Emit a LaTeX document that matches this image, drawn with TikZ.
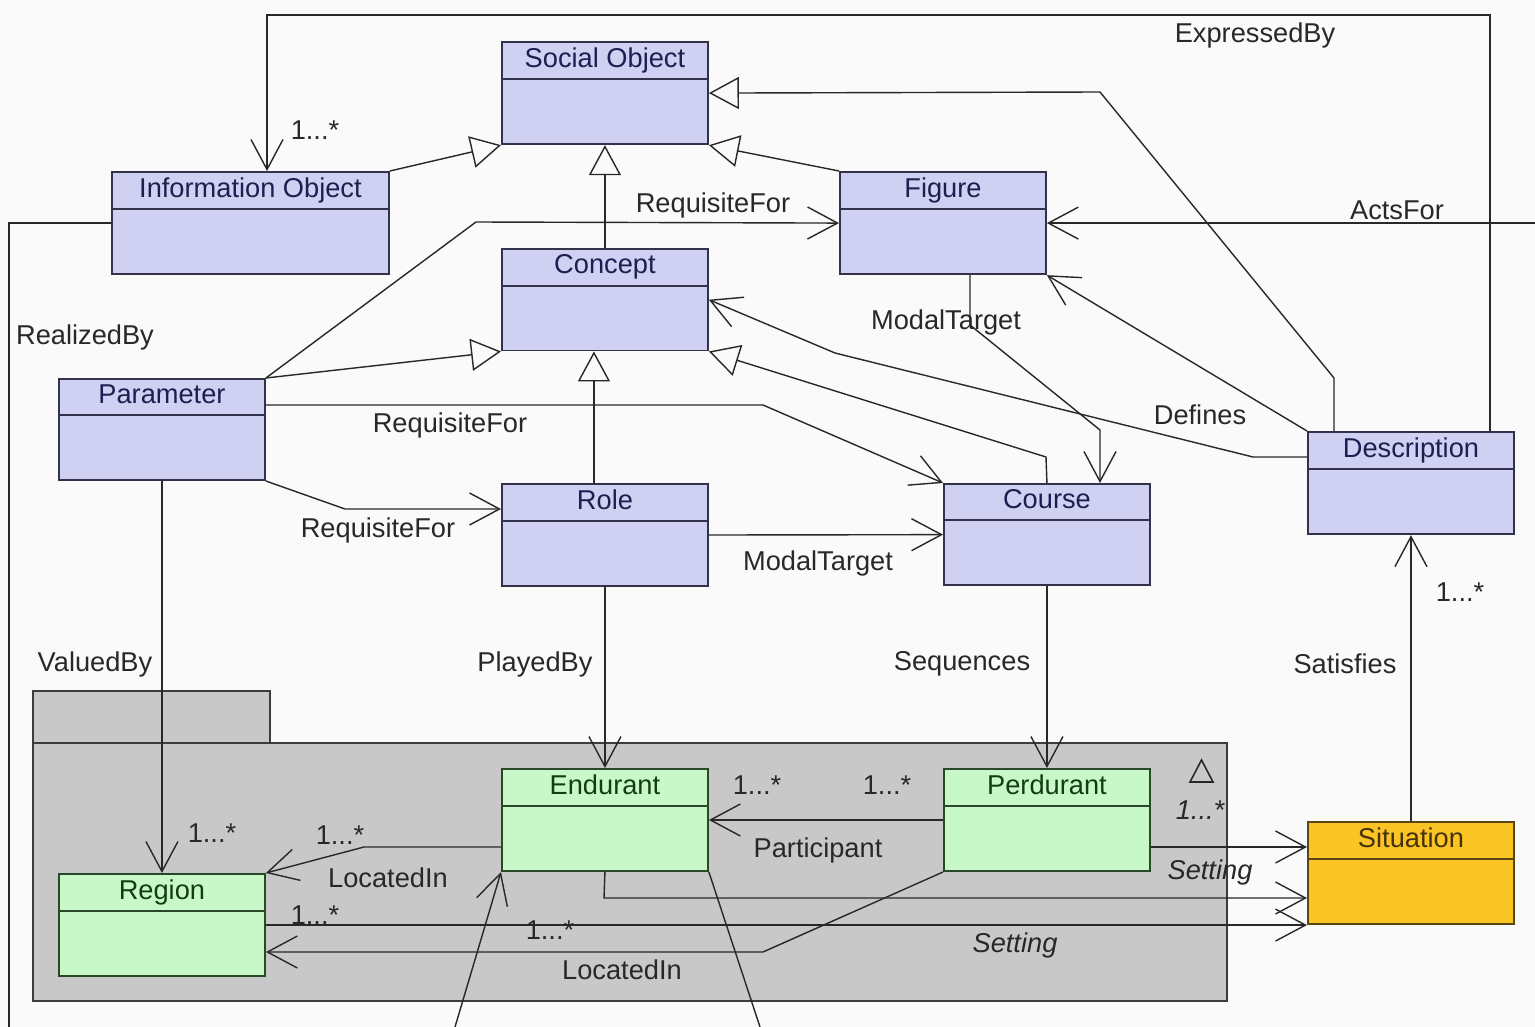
\documentclass[tikz,border=0pt]{standalone}
\usepackage{fontspec}
\setmainfont{Liberation Sans}
\usepackage{xcolor}
\usetikzlibrary{shapes.multipart,arrows.meta,positioning}

\definecolor{bgc}{RGB}{250,250,250}
\definecolor{linec}{RGB}{40,40,40}
\definecolor{lav}{RGB}{208,208,242}
\definecolor{lavline}{RGB}{50,50,72}
\definecolor{lavtext}{RGB}{30,30,80}
\definecolor{entfill}{RGB}{200,248,200}
\definecolor{entline}{RGB}{40,72,40}
\definecolor{enttext}{RGB}{20,60,20}
\definecolor{sitfill}{RGB}{250,196,36}
\definecolor{sitline}{RGB}{90,70,20}
\definecolor{sittext}{RGB}{70,50,10}
\definecolor{pkgfill}{RGB}{200,200,200}
\definecolor{pkgline}{RGB}{60,60,60}

\newcommand\hdstrut{\rule[-0.11cm]{0pt}{0.48cm}}
\newcommand\bodystrut{\rule{0pt}{1.06cm}}

\begin{document}
\begin{tikzpicture}[
    x=0.02cm, y=-0.02cm,
    font=\fontsize{15.5}{18}\selectfont,
    cls/.style={rectangle split, rectangle split parts=2, draw=lavline, fill=lav, text=lavtext,
        line width=1.1pt, minimum width=4.12cm, inner ysep=0.1cm, anchor=north west},
    ent/.style={cls, draw=entline, fill=entfill, text=enttext},
    sit/.style={cls, draw=sitline, fill=sitfill, text=sittext},
    conn/.style={draw=linec, line width=0.8pt},
    assoc/.style={conn, -{Straight Barb[length=0.6cm,width=0.64cm]}},
    gen/.style={conn, -{Triangle[length=0.6cm,width=0.64cm,fill=bgc]}},
    lbl/.style={text=linec, inner sep=0pt},
    ilbl/.style={lbl, font=\fontsize{15.5}{18}\selectfont\itshape}
]
    \useasboundingbox (0,0) rectangle (1535,1027);
    \fill[bgc] (0,0) rectangle (1535,1027);

    % package
    \draw[pkgline, fill=pkgfill, line width=1.1pt] (33,691) rectangle (270,743);
    \draw[pkgline, fill=pkgfill, line width=1.1pt] (33,743) rectangle (1227,1001);
    \draw[linec, line width=0.9pt] (1190,782) -- (1213,782) -- (1201.5,760) -- cycle;

    % classes
    \node[cls] (social) at (501,41) {\hdstrut Social Object\nodepart{second}\bodystrut};
    \node[cls, minimum width=5.54cm] (info) at (111,171) {\hdstrut Information Object\nodepart{second}\bodystrut};
    \node[cls] (figure) at (839,171) {\hdstrut Figure\nodepart{second}\bodystrut};
    \node[cls] (concept) at (501,248) {\hdstrut Concept\nodepart{second}\bodystrut};
    \node[cls] (param) at (58,378) {\hdstrut Parameter\nodepart{second}\bodystrut};
    \node[cls] (role) at (501,483) {\hdstrut Role\nodepart{second}\bodystrut};
    \node[cls] (course) at (943,483) {\hdstrut Course\nodepart{second}\bodystrut};
    \node[cls] (desc) at (1307,431) {\hdstrut Description\nodepart{second}\bodystrut};
    \node[ent] (endurant) at (501,768) {\hdstrut Endurant\nodepart{second}\bodystrut};
    \node[ent] (perd) at (943,768) {\hdstrut Perdurant\nodepart{second}\bodystrut};
    \node[ent] (region) at (58,873) {\hdstrut Region\nodepart{second}\bodystrut};
    \node[sit] (sit) at (1307,821) {\hdstrut Situation\nodepart{second}\bodystrut};

    \coordinate (realbot) at (9,1027);
    \coordinate (actsin) at (1535,222);
    \coordinate (botin) at (455,1027);
    \coordinate (botout) at (760,1027);

    % generalisations
    \draw[gen] (info.north east) -- (social.south west);
    \draw[gen] (figure.north west) -- (social.south east);
    \draw[gen] (concept.north) -- (social.south);
    \draw[gen] (1334,0 |- desc.north) -- (1334,378) -- (1100,92) -- (social.east);
    \draw[gen] (param.north east) -- (concept.south west);
    \draw[gen] ([xshift=-0.22cm]role.north) -- ([xshift=-0.22cm]concept.south);
    \draw[gen] (course.north) -- (1046,457) -- (concept.south east);

    % associations
    \draw[assoc] (1490,0 |- desc.north) -- (1490,15) -- (267,15) -- (267,0 |- info.north);
    \draw[conn] (info.west) -- (realbot |- info.west) -- (realbot);
    \draw[assoc] (actsin |- figure.east) -- (figure.east);
    \draw[assoc] (param.north east) -- (476,222) -- (figure.west);
    \draw[assoc] ([yshift=-0.52cm]desc.north west) -- (1253,457) -- (835,353) -- (concept.east);
    \draw[assoc] (desc.north west) -- (figure.south east);
    \draw[assoc] (970,0 |- figure.south) -- (970,325) -- (1100,430) -- (1100,0 |- course.north);
    \draw[assoc] ([yshift=-0.54cm]param.north east) -- (763,405) -- (course.north west);
    \draw[assoc] (param.south east) -- (345,509) -- (role.west |- 0,509);
    \draw[assoc] (role.east) -- (course.west);
    \draw[assoc] (param.south) -- (region.north);
    \draw[assoc] (role.south) -- (endurant.north);
    \draw[assoc] (course.south) -- (perd.north);
    \draw[assoc] (sit.north) -- (desc.south);
    \draw[assoc] (perd.west) -- (endurant.east);
    \draw[assoc] (endurant.west |- 0,847) -- (364,847) -- (region.north east);
    \draw[assoc] (perd.south west) -- (763,952) -- (region.east |- 0,952);
    \draw[assoc] (perd.east |- 0,847) -- (sit.west |- 0,847);
    \draw[assoc] (endurant.south) -- (604,898) -- (sit.west |- 0,898);
    \draw[assoc] (region.east) -- (sit.west |- region.east);
    \draw[assoc] (botin) -- (endurant.south west);
    \draw[conn] (endurant.south east) -- (botout);

    % labels
    \node[lbl] (l-expr) at (1255,35) {ExpressedBy};
    \node[lbl] (m-info) at (315,130) {1...*};
    \node[lbl] (l-reqfig) at (713,205) {RequisiteFor};
    \node[lbl] (l-acts) at (1397,210) {ActsFor};
    \node[lbl] (l-real) at (85,337) {RealizedBy};
    \node[lbl] (l-modfig) at (946,322) {ModalTarget};
    \node[lbl] (l-def) at (1200,415) {Defines};
    \node[lbl] (l-reqcourse) at (450,425) {RequisiteFor};
    \node[lbl] (l-reqrole) at (378,530) {RequisiteFor};
    \node[lbl] (l-modrole) at (818,563) {ModalTarget};
    \node[lbl] (l-val) at (95,664) {ValuedBy};
    \node[lbl] (l-play) at (535,664) {PlayedBy};
    \node[lbl] (l-seq) at (962,664) {Sequences};
    \node[lbl] (l-sat) at (1345,664) {Satisfies};
    \node[lbl] (m-desc) at (1460,592) {1...*};
    \node[lbl] (m-endpart) at (757,785) {1...*};
    \node[lbl] (m-perdpart) at (887,785) {1...*};
    \node[ilbl] (m-sit) at (1200,810) {1...*};
    \node[lbl] (m-region) at (212,833) {1...*};
    \node[lbl] (m-loc) at (340,835) {1...*};
    \node[lbl] (l-part) at (818,850) {Participant};
    \node[ilbl] (l-set1) at (1210,872) {Setting};
    \node[lbl] (l-loc1) at (388,878) {LocatedIn};
    \node[lbl] (m-reg2) at (315,915) {1...*};
    \node[lbl] (m-reg3) at (550,930) {1...*};
    \node[ilbl] (l-set2) at (1015,945) {Setting};
    \node[lbl] (l-loc2) at (622,970) {LocatedIn};
\end{tikzpicture}
\end{document}
